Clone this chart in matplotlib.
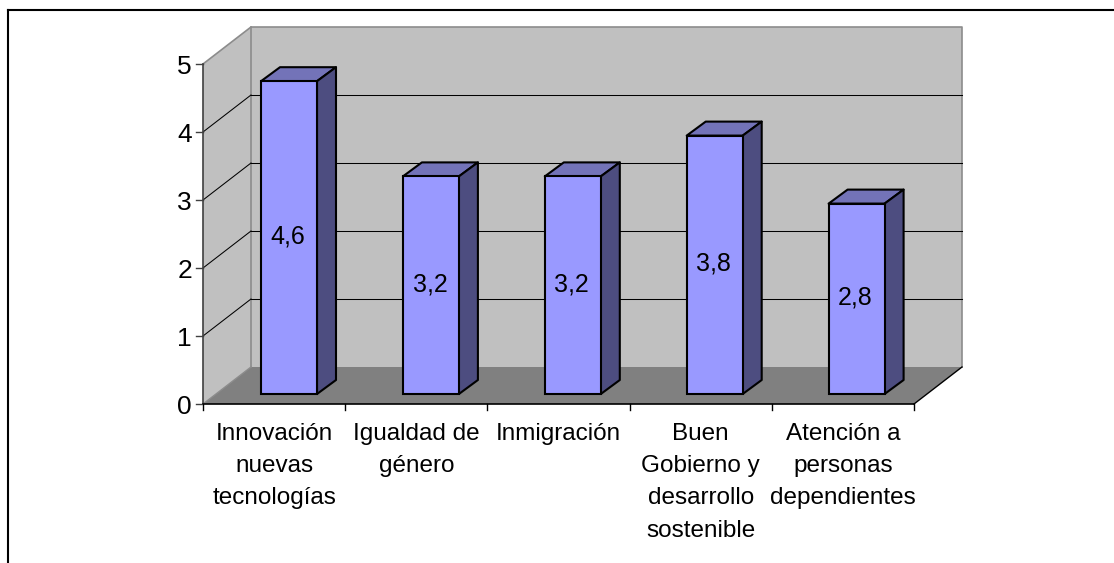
import matplotlib
matplotlib.use("Agg")
import matplotlib.pyplot as plt
from matplotlib.patches import Polygon, Rectangle

categories = ["Innovación\nnuevas\ntecnologías", "Igualdad de\ngénero", "Inmigración",
              "Buen\nGobierno y\ndesarrollo\nsostenible", "Atención a\npersonas\ndependientes"]
values = [4.6, 3.2, 3.2, 3.8, 2.8]
value_labels = ["4,6", "3,2", "3,2", "3,8", "2,8"]
y_ticks = [0, 1, 2, 3, 4, 5]

W, H = 1114, 563
plt.rcParams['font.family'] = ['Liberation Sans', 'DejaVu Sans']

fig = plt.figure(figsize=(W / 100, H / 100), dpi=100)
# front plane of the fake 3d box
ax = fig.add_axes([203 / W, 1 - 404 / H, 711 / W, 340 / H])
ax.set_xlim(0, 5)
ax.set_ylim(0, 5)
ax.axis("off")

ux = 711 / 5.0
uy = 340 / 5.0
# wall depth in data units
dx = 48 / ux
dy = 37 / uy
# bars sit inside the depth
bx0 = 58 / ux
by0 = 10 / uy
bdx = 19 / ux
bdy = 14 / uy
bw = 56 / ux
pitch = 141.9 / ux


def poly(pts, fc, ec="none", lw=0, z=1):
    ax.add_patch(Polygon(pts, closed=True, fc=fc, ec=ec, lw=lw, zorder=z, clip_on=False, joinstyle="round"))


# walls
poly([(0, 0), (dx, dy), (dx, 5 + dy), (0, 5)], "#c0c0c0", z=1)
poly([(dx, dy), (5 + dx, dy), (5 + dx, 5 + dy), (dx, 5 + dy)], "#c0c0c0", z=1)
poly([(0, 0), (5, 0), (5 + dx, dy), (dx, dy)], "#808080", z=1)
# wall outlines
ax.plot([0, dx, 5 + dx, 5 + dx], [5, 5 + dy, 5 + dy, dy], color="#8c8c8c", lw=1.2, zorder=2, clip_on=False)
ax.plot([dx, dx], [dy, 5 + dy], color="#8c8c8c", lw=1.2, zorder=2, clip_on=False)
ax.plot([0, dx], [0, dy], color="#8c8c8c", lw=1.0, zorder=2, clip_on=False)
ax.plot([5, 5 + dx], [0, dy], color="black", lw=1.0, zorder=2, clip_on=False)

# gridlines, split so the long part snaps to a crisp pixel row
for t in y_ticks[1:-1]:
    ax.plot([0, dx], [t, t + dy], color="black", lw=0.75, zorder=3, clip_on=False)
    ax.plot([dx, 5 + dx], [t + dy, t + dy], color="black", lw=0.75, zorder=3, clip_on=False)

# bars
for i, v in enumerate(values):
    x0 = i * pitch + bx0
    y0 = by0
    x1 = x0 + bw
    y1 = y0 + v
    poly([(x0, y1), (x1, y1), (x1 + bdx, y1 + bdy), (x0 + bdx, y1 + bdy)], "#7373b8", "black", 1.5, 5)
    poly([(x1, y0), (x1 + bdx, y0 + bdy), (x1 + bdx, y1 + bdy), (x1, y1)], "#4d4d80", "black", 1.5, 5)
    ax.add_patch(Rectangle((x0, y0), bw, v, fc="#9999ff", ec="black", lw=1.5, zorder=6, clip_on=False))
    ax.text(x0 + bw / 2 - 1 / ux, y0 + v / 2 + 1 / uy, value_labels[i], ha="center", va="center", fontsize=18, color="black", zorder=7)

# axes lines and ticks
tick = 7 / ux
ax.plot([0, 0], [0, 5], color="#404040", lw=1.2, zorder=8, clip_on=False)
ax.plot([0, 5], [0, 0], color="black", lw=1.2, zorder=8, clip_on=False)
for t in y_ticks:
    ax.plot([-tick, 0], [t, t], color="#404040", lw=1.0, zorder=8, clip_on=False)
    ax.text(-11 / ux, t - 3 / uy, str(t), ha="right", va="center", fontsize=19, color="black")
for i in range(len(categories) + 1):
    ax.plot([i, i], [0, -6 / uy], color="black", lw=1.0, zorder=8, clip_on=False)

# category labels
for i, c in enumerate(categories):
    ax.text(i + 0.5, -19 / uy, c, ha="center", va="top", fontsize=17.5, color="black",
            linespacing=1.6, clip_on=False)

# outer frame of the slide, no right edge in the crop
fig.add_artist(plt.Line2D([8 / W, 8 / W], [0, 1 - 10 / H], color="black", lw=1.5))
fig.add_artist(plt.Line2D([8 / W, 1], [1 - 10 / H, 1 - 10 / H], color="black", lw=1.5))

fig.savefig("out.png", dpi=100)
